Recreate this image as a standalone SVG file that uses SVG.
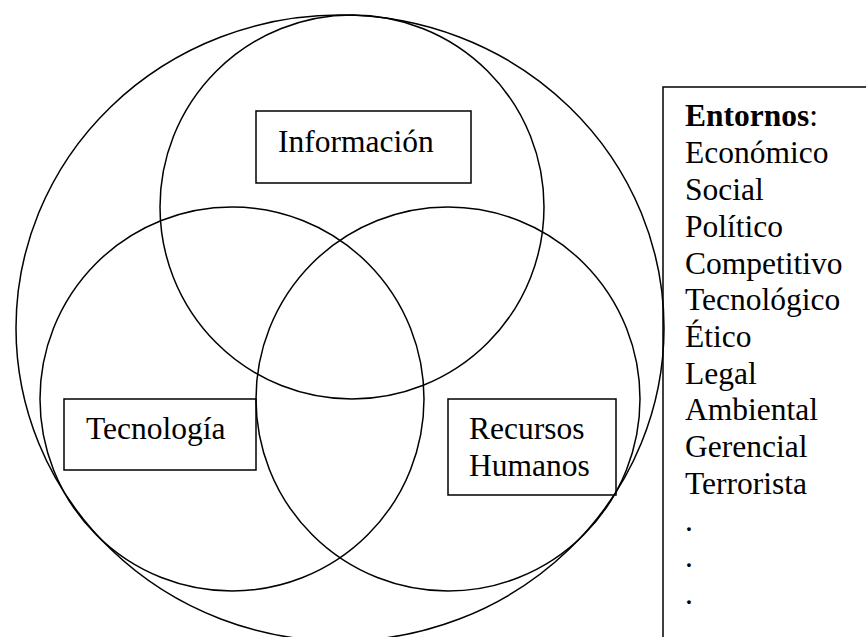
<svg xmlns="http://www.w3.org/2000/svg" width="866" height="637" viewBox="0 0 866 637">
<style>
.c{fill:none;stroke:#000;stroke-width:1.5}
.b{fill:none;stroke:#000;stroke-width:1.5}
text{font-family:"Liberation Serif","Times New Roman",serif;font-size:31.5px;fill:#000}
</style>
<rect width="866" height="637" fill="#fff"/>
<g id="entorno">
<ellipse class="c" cx="340" cy="328" rx="324" ry="313"/>
</g>
<g id="informacion">
<circle class="c" cx="352" cy="207" r="192"/>
<rect class="b" x="256" y="111" width="215" height="72"/>
<text x="278" y="152">Información</text>
</g>
<g id="tecnologia">
<circle class="c" cx="232" cy="399" r="192"/>
<rect class="b" x="64" y="399" width="192" height="71"/>
<text x="86" y="439">Tecnología</text>
</g>
<g id="recursos">
<circle class="c" cx="448" cy="399" r="192"/>
<rect class="b" x="448" y="399" width="168" height="96"/>
<text x="469" y="439">Recursos</text>
<text x="469" y="475.5">Humanos</text>
</g>
<g id="entornos-lista">
<path class="b" d="M663 637V87H866"/>
<text x="685" y="126"><tspan font-weight="bold">Entornos</tspan>:</text>
<text x="685" y="163">Económico</text>
<text x="685" y="200">Social</text>
<text x="685" y="237">Político</text>
<text x="685" y="273.5">Competitivo</text>
<text x="685" y="310">Tecnológico</text>
<text x="685" y="347">Ético</text>
<text x="685" y="383.5">Legal</text>
<text x="685" y="420">Ambiental</text>
<text x="685" y="457">Gerencial</text>
<text x="685" y="493.5">Terrorista</text>
<text x="685" y="530.5">.</text>
<text x="685" y="567">.</text>
<text x="685" y="604">.</text>
</g>
<g id="connectors"></g>
</svg>
